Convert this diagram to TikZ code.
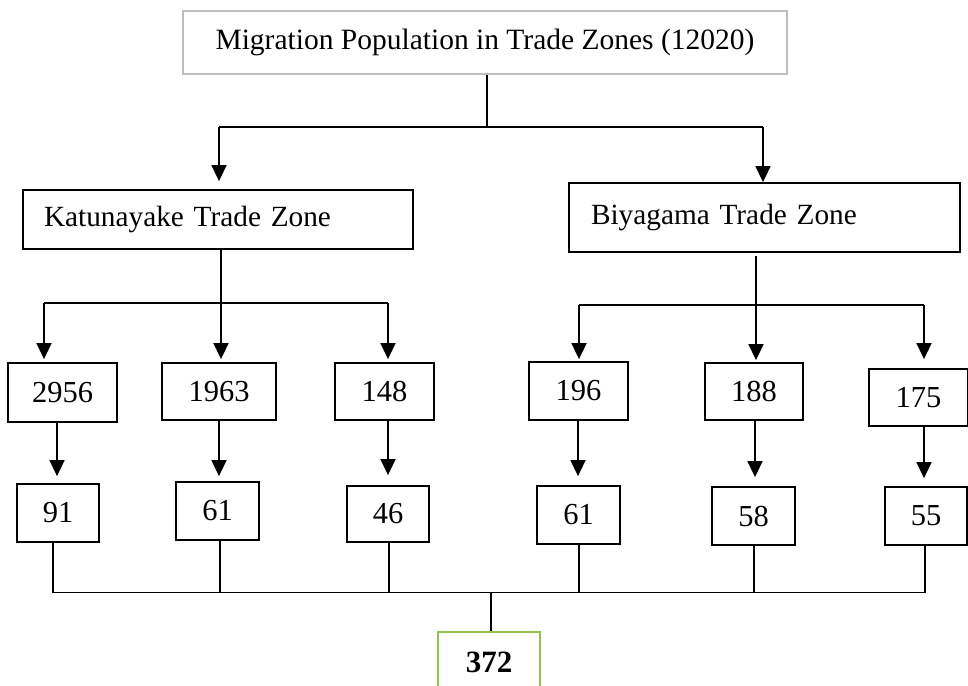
\documentclass[tikz,border=0pt]{standalone}
\usepackage{fontspec}
\setmainfont{Liberation Serif}
\usetikzlibrary{arrows.meta,calc}

\definecolor{framegray}{HTML}{BDBDBD}
\definecolor{sumgreen}{HTML}{93C051}

\tikzset{
  conn/.style={line width=1.6pt, black},
  arr/.style={conn, -{Triangle[length=16pt,width=15pt]}},
  zonebox/.style={draw, line width=1.8pt, inner sep=0pt,
    font=\fontsize{29.3}{34}\selectfont, align=left},
  numbox/.style={draw, line width=1.8pt, inner sep=0pt,
    font=\fontsize{30.5}{36}\selectfont},
  titlebox/.style={draw=framegray, line width=1.2pt, inner sep=0pt,
    font=\fontsize{29.5}{34}\selectfont},
  sumbox/.style={draw=sumgreen, line width=1.8pt, inner sep=0pt,
    font=\bfseries\fontsize{31}{36}\selectfont},
}

\begin{document}
\begin{tikzpicture}[x=1pt,y=-1pt]
  \useasboundingbox (0,0) rectangle (968,685);

  % title
  \node[titlebox, minimum width=604pt, minimum height=63pt] (top) at (485,42.5)
    {Migration Population in Trade Zones (12020)};

  % trade zones
  \node[zonebox, minimum width=390pt, minimum height=59pt, text width=348pt] (kat) at (218,219.5)
    {Katunayake Trade Zone};
  \node[zonebox, minimum width=391pt, minimum height=69pt, text width=347pt] (biy) at (764.5,217.5)
    {Biyagama Trade Zone};

  % first row of counts
  \node[numbox, minimum width=109pt, minimum height=59pt] (k1) at (62.5,392.5) {2956};
  \node[numbox, minimum width=114pt, minimum height=57pt] (k2) at (219,391.5) {1963};
  \node[numbox, minimum width=99pt,  minimum height=57pt] (k3) at (384.5,391.5) {148};
  \node[numbox, minimum width=99pt,  minimum height=58pt] (b1) at (578.5,391) {196};
  \node[numbox, minimum width=98pt,  minimum height=57pt] (b2) at (754,391.5) {188};
  \node[numbox, minimum width=99pt,  minimum height=57pt] (b3) at (918.5,397.5) {175};

  % second row of counts
  \node[numbox, minimum width=82pt, minimum height=58pt] (k1s) at (58,513) {91};
  \node[numbox, minimum width=83pt, minimum height=58pt] (k2s) at (217.5,511) {61};
  \node[numbox, minimum width=82pt, minimum height=56pt] (k3s) at (388,514) {46};
  \node[numbox, minimum width=83pt, minimum height=58pt] (b1s) at (578.5,515) {61};
  \node[numbox, minimum width=83pt, minimum height=58pt] (b2s) at (753.5,516) {58};
  \node[numbox, minimum width=82pt, minimum height=58pt] (b3s) at (926,516) {55};

  % total
  \node[sumbox, minimum width=102pt, minimum height=60pt] (tot) at (489,662) {372};

  % title -> zones
  \coordinate (t0) at (487,127);
  \coordinate (tl) at (219,127);
  \coordinate (tr) at (763,127);
  \draw[conn] (top.south -| t0) -- (t0);
  \draw[conn] (tl) -- (tr);
  \draw[arr] (tl) -- ($(tl |- kat.north)+(0,-8)$);
  \draw[arr] (tr) -- (tr |- biy.north);

  % Katunayake -> counts
  \coordinate (ka) at (44,303);
  \coordinate (kb) at (221,303);
  \coordinate (kc) at (388,303);
  \draw[conn] (kat.south -| kb) -- (kb);
  \draw[conn] (ka) -- (kc);
  \draw[arr] (ka) -- ($(ka |- k1.north)+(0,-3)$);
  \draw[arr] (kb) -- ($(kb |- k2.north)+(0,-3)$);
  \draw[arr] (kc) -- ($(kc |- k3.north)+(0,-3)$);

  % Biyagama -> counts
  \coordinate (ba) at (579,305);
  \coordinate (bb) at (756,305);
  \coordinate (bc) at (924,305);
  \draw[conn] ($(biy.south -| bb)+(0,3)$) -- (bb);
  \draw[conn] (ba) -- (bc);
  \draw[arr] (ba) -- ($(ba |- b1.north)+(0,-2)$);
  \draw[arr] (bb) -- ($(bb |- b2.north)+(0,-2)$);
  \draw[arr] (bc) -- ($(bc |- b3.north)+(0,-9)$);

  % first row -> second row
  \draw[arr] (k1.south -| 57,0) -- ($(k1s.north -| 57,0)+(0,-7)$);
  \draw[arr] (k2.south -| 219,0) -- ($(k2s.north -| 219,0)+(0,-5)$);
  \draw[arr] (k3.south -| 388,0) -- ($(k3s.north -| 388,0)+(0,-10)$);
  \draw[arr] (b1.south -| 578,0) -- ($(b1s.north -| 578,0)+(0,-9)$);
  \draw[arr] (b2.south -| 755,0) -- ($(b2s.north -| 755,0)+(0,-9)$);
  \draw[arr] (b3.south -| 924,0) -- ($(b3s.north -| 924,0)+(0,-8)$);

  % second row -> total
  \coordinate (s1) at (53,592.5);
  \coordinate (s2) at (220,592.5);
  \coordinate (s3) at (389,592.5);
  \coordinate (s4) at (579,592.5);
  \coordinate (s5) at (754,592.5);
  \coordinate (s6) at (925,592.5);
  \coordinate (sm) at (491,592.5);
  \draw[conn] (k1s.south -| s1) -- (s1);
  \draw[conn] (k2s.south -| s2) -- (s2);
  \draw[conn] (k3s.south -| s3) -- (s3);
  \draw[conn] (b1s.south -| s4) -- (s4);
  \draw[conn] (b2s.south -| s5) -- (s5);
  \draw[conn] (b3s.south -| s6) -- (s6);
  \draw[conn] (s1) -- (s6);
  \draw[conn] (sm) -- (tot.north -| sm);
\end{tikzpicture}
\end{document}
